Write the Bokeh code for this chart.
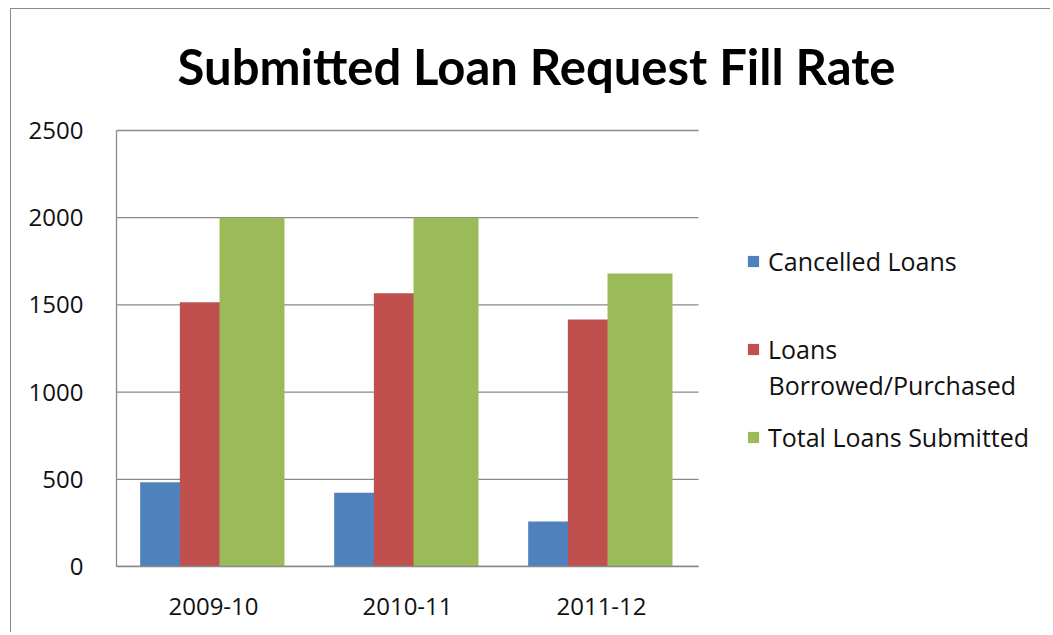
from bokeh.plotting import figure
from bokeh.models import (Range1d, FixedTicker, Legend, LegendItem, Label, ColumnDataSource)
from bokeh.embed import file_html
from bokeh.resources import INLINE

# ---- data ----
categories = ["2009-10", "2010-11", "2011-12"]
cancelled_loans = [483, 423, 258]
loans_borrowed = [1515, 1567, 1416]
total_submitted = [2000, 2000, 1680]
y_ticks = [0, 500, 1000, 1500, 2000, 2500]
title_text = "Submitted Loan Request Fill Rate"
series_names = ["Cancelled Loans", "Loans", "Total Loans Submitted"]
second_line = "Borrowed/Purchased"

BLUE = "#4F81BD"
RED = "#C0504D"
GREEN = "#9BBB59"
GRID = "#898989"
TXT = "#111111"

n = len(categories)
centers = [i + 0.5 for i in range(n)]
off = 0.2045
bw = 0.335
shift = -0.006
src = ColumnDataSource(dict(
    xc=[c - off + shift for c in centers], xb=[c + shift for c in centers],
    xt=[c + off + shift for c in centers],
    c=cancelled_loans, b=loans_borrowed, t=total_submitted))

# canvas geometry (pixels)
W, H = 1040, 624
FL, FB = 105, 557          # frame left / bottom inside canvas
cat_px = 194.0             # width of one category slot
val_px = 436.0 / 2500      # pixels per unit on the value axis

p = figure(width=W, height=H, output_backend="svg", toolbar_location=None, title=None,
           x_range=Range1d(0, (W - FL) / cat_px), y_range=Range1d(0, FB / val_px),
           min_border_left=FL, min_border_right=0, min_border_top=0,
           min_border_bottom=H - FB)
p.styles = {"border-top": "1px solid #8a8a8a", "border-left": "1px solid #8a8a8a",
            "margin-left": "10px", "margin-top": "8px"}
p.outline_line_color = None
p.background_fill_color = "white"
p.border_fill_color = "white"
p.xgrid.visible = False
p.ygrid.visible = False

# horizontal gridlines restricted to the category area
p.segment(x0=[0] * len(y_ticks), x1=[n] * len(y_ticks), y0=y_ticks, y1=y_ticks,
          line_color=GRID, line_width=1.3)

r1 = p.vbar(x="xc", top="c", width=bw, source=src, fill_color=BLUE, line_color=None)
r2 = p.vbar(x="xb", top="b", width=bw, source=src, fill_color=RED, line_color=None)
r3 = p.vbar(x="xt", top="t", width=bw, source=src, fill_color=GREEN, line_color=None)

# axes
p.yaxis.ticker = FixedTicker(ticks=y_ticks)
p.yaxis.bounds = (0, y_ticks[-1])
p.xaxis.ticker = FixedTicker(ticks=centers)
p.xaxis.major_label_overrides = {c: lab for c, lab in zip(centers, categories)}
p.xaxis.bounds = (0, n)
for ax in (p.xaxis, p.yaxis):
    ax.axis_line_color = GRID
    ax.axis_line_width = 1.3
    ax.major_tick_line_color = None
    ax.minor_tick_line_color = None
    ax.major_label_text_font = "Open Sans"
    ax.major_label_text_font_size = "24px"
    ax.major_label_text_color = TXT
p.yaxis.major_label_standoff = 27
p.xaxis.major_label_standoff = 25

# title (inside the enlarged frame, screen units from frame bottom-left)
p.add_layout(Label(x=420, y=501, x_units="screen", y_units="screen", text=title_text,
                   text_align="center", text_baseline="alphabetic",
                   text_font="Lato", text_font_style="bold",
                   text_font_size="49px", text_color="black"))

# legend
legend = Legend(items=[LegendItem(label=series_names[0], renderers=[r1]),
                       LegendItem(label=series_names[1], renderers=[r2]),
                       LegendItem(label=series_names[2], renderers=[r3])],
                location=(630, 112), orientation="vertical",
                padding=0, margin=0, spacing=54, label_height=30,
                glyph_height=14, glyph_width=14, label_standoff=8,
                label_text_font="Open Sans", label_text_font_size="25px",
                label_text_color=TXT,
                border_line_color=None, background_fill_alpha=0)
p.add_layout(legend, "center")
p.add_layout(Label(x=652, y=182, x_units="screen", y_units="screen", text=second_line,
                   text_align="left", text_baseline="middle",
                   text_font="Open Sans", text_font_size="25px", text_color=TXT))

open("out.html", "w").write(file_html(p, INLINE))
